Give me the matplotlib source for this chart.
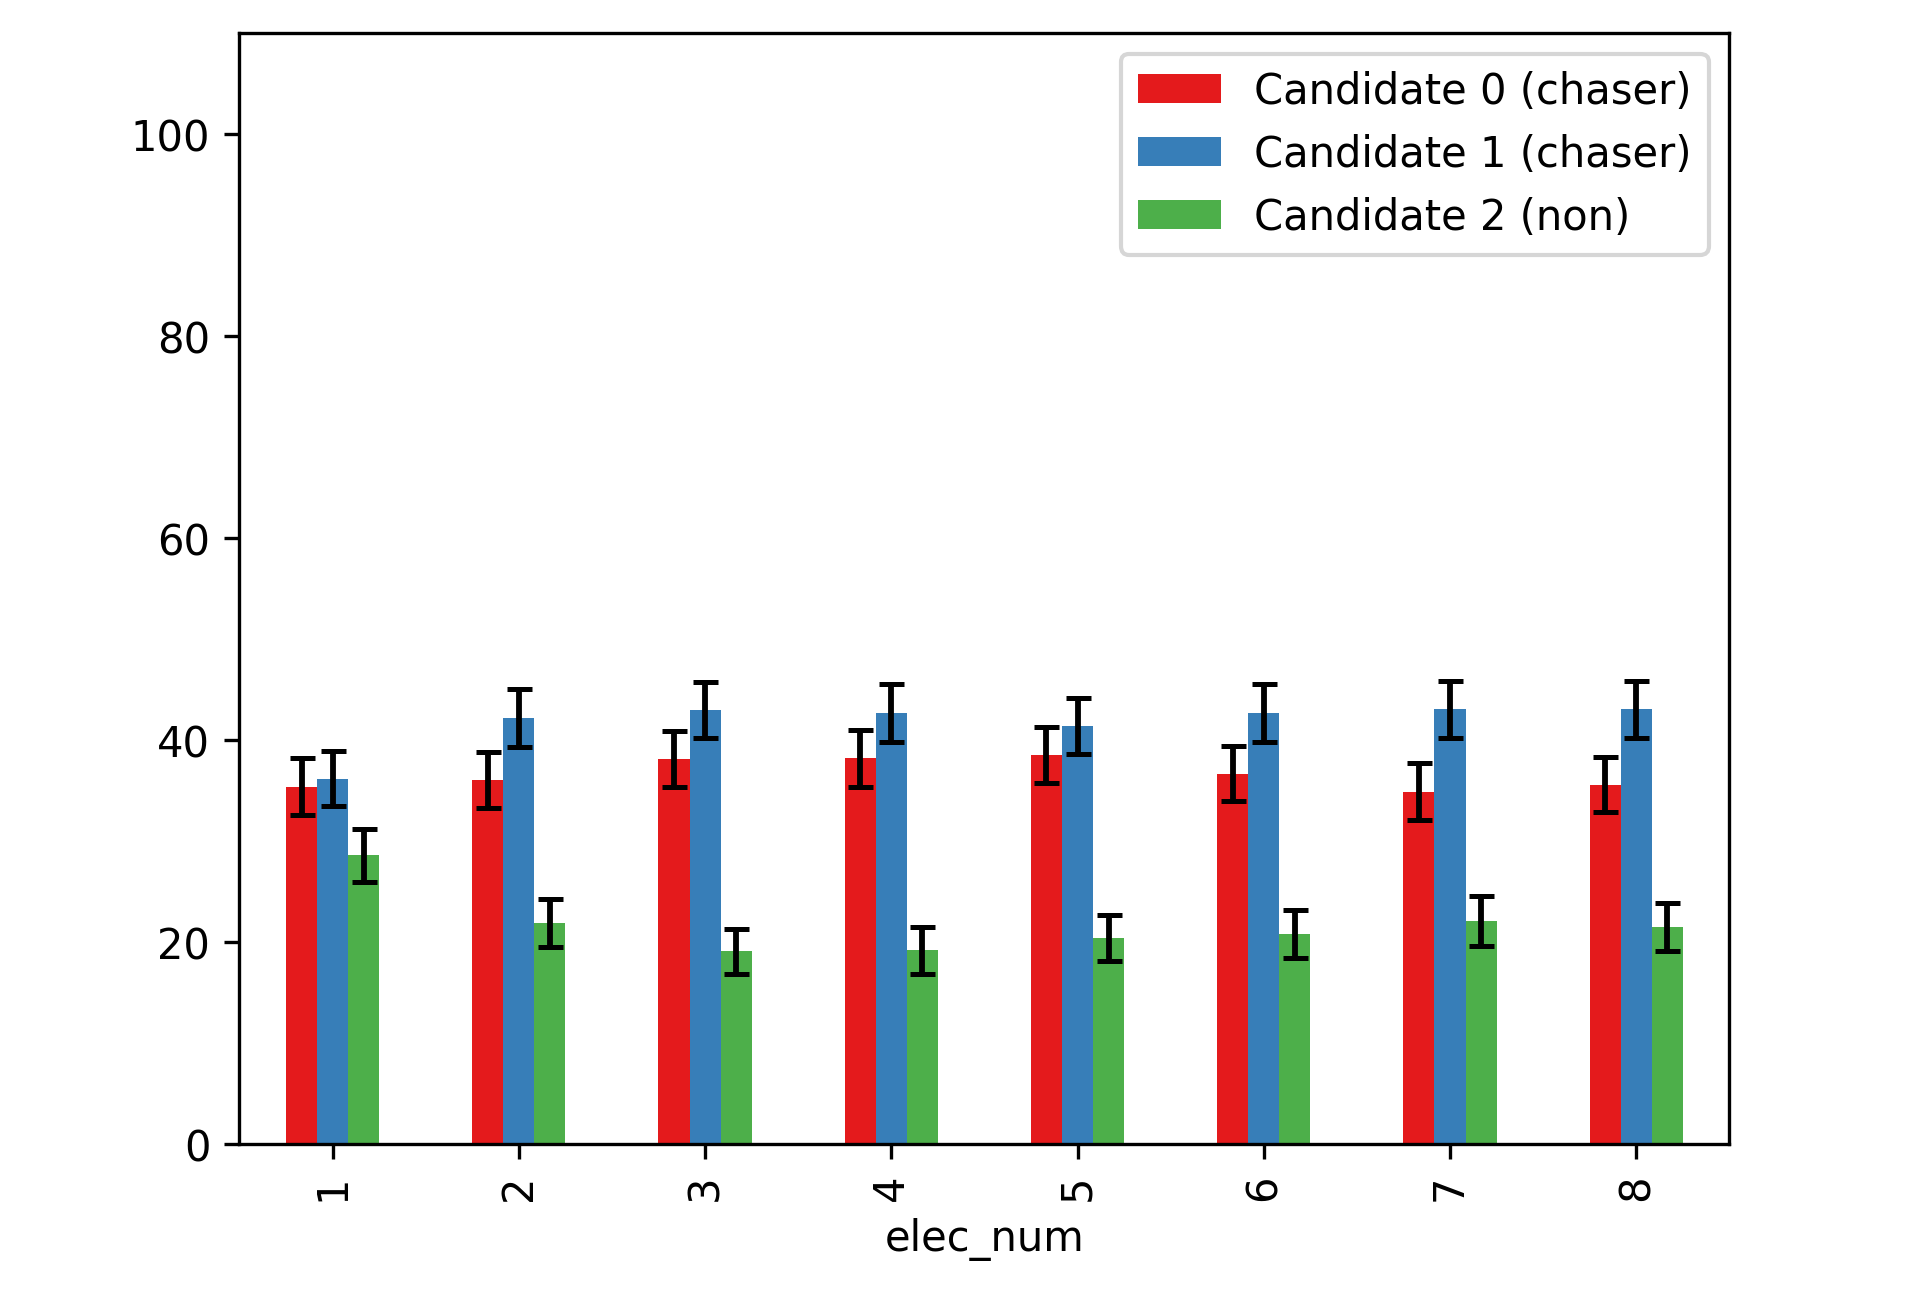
import numpy as np
import pandas as pd
import matplotlib
matplotlib.use("Agg")
import matplotlib.pyplot as plt

# === DATA ===
elec_num = [1, 2, 3, 4, 5, 6, 7, 8]
cand0 = [35.4, 36.1, 38.1, 38.2, 38.5, 36.7, 34.9, 35.6]
cand1 = [36.2, 42.2, 43.0, 42.7, 41.4, 42.7, 43.05, 43.05]
cand2 = [28.6, 21.9, 19.1, 19.2, 20.4, 20.8, 22.1, 21.5]
err0 = [2.8, 2.77, 2.77, 2.8, 2.77, 2.75, 2.8, 2.75]
err1 = [2.7, 2.9, 2.8, 2.9, 2.8, 2.9, 2.8, 2.8]
err2 = [2.6, 2.4, 2.2, 2.3, 2.3, 2.4, 2.45, 2.4]
labels = ["Candidate 0 (chaser)", "Candidate 1 (chaser)", "Candidate 2 (non)"]
colors = ["#e41a1c", "#377eb8", "#4daf4a"]

df = pd.DataFrame({labels[0]: cand0, labels[1]: cand1, labels[2]: cand2},
                  index=pd.Index(elec_num, name="elec_num"))
df_err = pd.DataFrame({labels[0]: err0, labels[1]: err1, labels[2]: err2},
                      index=df.index)

# === PLOT ===
fig, ax = plt.subplots(figsize=(6.4, 4.333), dpi=300)
fig.subplots_adjust(left=0.1247, right=0.9007, bottom=0.119, top=0.974)

df.plot(kind="bar", ax=ax, yerr=df_err, color=colors,
        error_kw=dict(capsize=3, elinewidth=1.4, capthick=1.2, ecolor="black"))
ax.set_ylim(0, 110)
ax.legend(loc="upper right")

fig.savefig("out.png", dpi=300)
